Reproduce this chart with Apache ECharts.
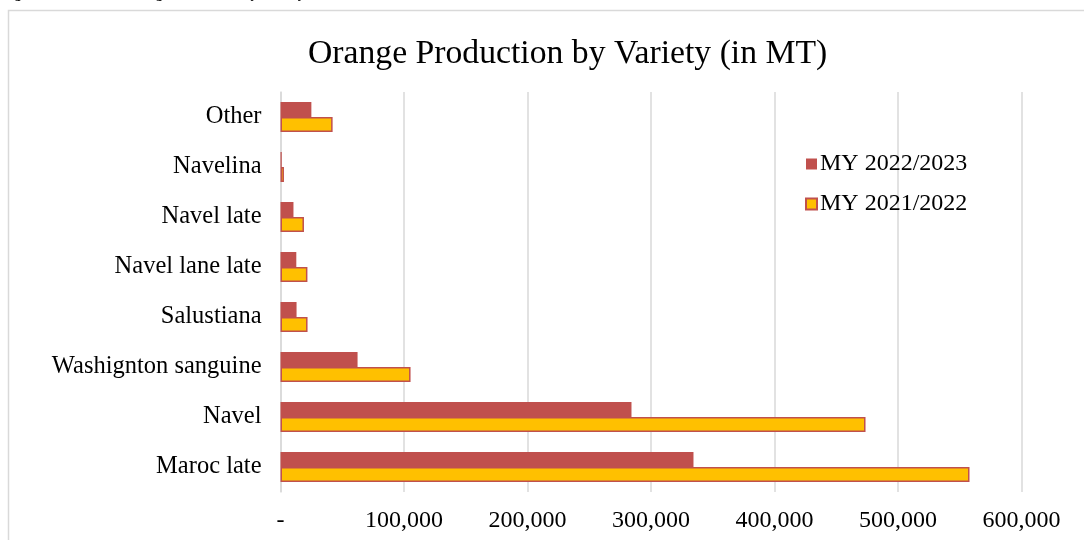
<!DOCTYPE html>
<html>
<head>
<meta charset="utf-8">
<script src="https://cdn.jsdelivr.net/npm/echarts@6/dist/echarts.min.js"></script>
<style>
  html, body { margin: 0; padding: 0; background: #fff; }
  #chart { width: 1084px; height: 540px; }
</style>
</head>
<body>
<div id="chart"></div>
<script>
var varieties = ['Maroc late', 'Navel', 'Washignton sanguine', 'Salustiana', 'Navel lane late', 'Navel late', 'Navelina', 'Other'];
var my2223 = [334400, 284200, 62400, 13000, 12800, 10500, 1000, 25000];
var my2122 = [557900, 473700, 105300, 21900, 21800, 19000, 2800, 42200];
var xTicks = { min: 0, max: 600000, step: 100000 };

var serif = '"Liberation Serif", "Times New Roman", serif';

var chart = echarts.init(document.getElementById('chart'));

chart.setOption({
    animation: false,
    textStyle: { fontFamily: serif },
    graphic: [
        {
            type: 'rect',
            shape: { x: 8.5, y: 10.5, width: 1100, height: 560 },
            style: { fill: 'none', stroke: '#d9d9d9', lineWidth: 1.5 }
        },
        // caption above the frame, cut off by the page edge
        {
            type: 'text',
            x: 2, y: 1,
            style: {
                text: 'Figure 3: Moroccan Orange Production by Variety',
                font: 'bold 14px "Liberation Serif"',
                verticalAlign: 'bottom',
                fill: '#000'
            }
        }
    ],
    title: {
        text: 'Orange Production by Variety (in MT)',
        left: 303,
        top: 32,
        textStyle: { fontFamily: serif, fontSize: 33.7, fontWeight: 'normal', color: '#000' }
    },
    legend: {
        orient: 'vertical',
        left: 800,
        top: 147,
        itemGap: 16,
        itemWidth: 11,
        itemHeight: 11,
        icon: 'rect',
        textStyle: { fontFamily: serif, fontSize: 24, color: '#000', padding: [0, 0, 0, -2] },
        data: ['MY 2022/2023', 'MY 2021/2022']
    },
    grid: { left: 280.5, right: 62.5, top: 92, bottom: 48 },
    xAxis: {
        type: 'value',
        min: xTicks.min,
        max: xTicks.max,
        interval: xTicks.step,
        axisLine: { show: false },
        axisTick: { show: false },
        splitLine: { lineStyle: { color: '#d9d9d9', width: 1.5 } },
        axisLabel: {
            fontFamily: serif, fontSize: 24, color: '#000', margin: 17,
            formatter: function (v) { return v === 0 ? '-' : v.toLocaleString('en-US'); }
        }
    },
    yAxis: {
        type: 'category',
        data: varieties,
        axisLine: { show: true, lineStyle: { color: '#d9d9d9', width: 1.5 } },
        axisTick: { show: false },
        axisLabel: { fontFamily: serif, fontSize: 24.5, color: '#000', margin: 19 }
    },
    series: [
        {
            name: 'MY 2022/2023',
            type: 'bar',
            data: my2223,
            barWidth: 15,
            barGap: '0%',
            itemStyle: { color: '#c0504d' }
        },
        {
            name: 'MY 2021/2022',
            type: 'bar',
            data: my2122,
            barWidth: 15,
            itemStyle: { color: '#ffc000', borderColor: '#c0504d', borderWidth: 1.5 }
        }
    ]
});
</script>
</body>
</html>
